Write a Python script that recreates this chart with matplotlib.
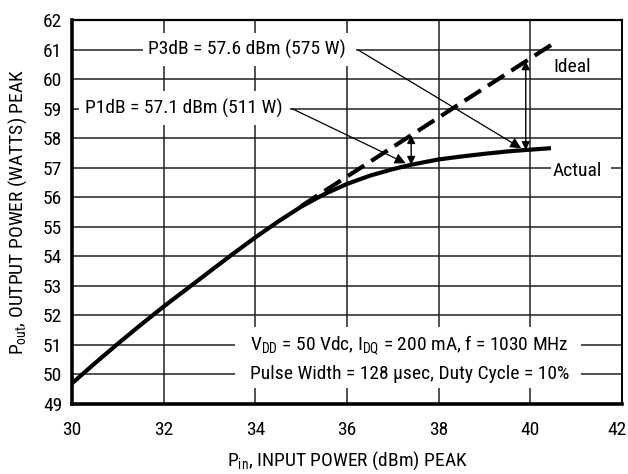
import matplotlib
matplotlib.use("Agg")
import matplotlib.pyplot as plt
from matplotlib import font_manager
from matplotlib.patches import Rectangle
from matplotlib.transforms import ScaledTranslation

# ---- data -------------------------------------------------------------
pin_actual = [30.0, 30.5, 31.0, 31.5, 32.0, 32.5, 33.0, 33.5, 34.0, 34.5, 35.0,
              35.5, 36.0, 36.5, 37.0, 37.4, 38.0, 38.5, 39.0, 39.5, 39.9, 40.45]
pout_actual = [49.7, 50.38, 51.04, 51.68, 52.3, 52.89, 53.48, 54.07, 54.64, 55.18, 55.68,
               56.1, 56.45, 56.73, 56.95, 57.1, 57.28, 57.38, 57.47, 57.55, 57.6, 57.66]

pin_ideal = [35.0, 40.45]
pout_ideal = [55.7, 61.15]

p1db_pin, p1db_actual, p1db_ideal = 37.4, 57.1, 58.1
p3db_pin, p3db_actual, p3db_ideal = 39.9, 57.6, 60.6

xticks = [30, 32, 34, 36, 38, 40, 42]
yticks = list(range(49, 63))

p1db_label = "P1dB = 57.1 dBm (511 W)"
p3db_label = "P3dB = 57.6 dBm (575 W)"
cond_line1 = r"V$\mathregular{_{DD}}$ = 50 Vdc, I$\mathregular{_{DQ}}$ = 200 mA, f = 1030 MHz"
cond_line2 = "Pulse Width = 128 \u03bcsec, Duty Cycle = 10%"

# ---- style ------------------------------------------------------------
names = {f.name for f in font_manager.fontManager.ttflist}
family = next((n for n in ("Roboto Condensed", "Archivo Narrow", "Pragati Narrow",
                           "PT Sans Narrow", "Liberation Sans") if n in names), "DejaVu Sans")
plt.rcParams["font.family"] = [family, "DejaVu Sans"]
plt.rcParams["mathtext.fontset"] = "custom"
plt.rcParams["mathtext.rm"] = family
plt.rcParams["lines.scale_dashes"] = False
FS = 14

fig = plt.figure(figsize=(6.28, 4.74), dpi=100)
ax = fig.add_axes([72 / 628, 1 - 404 / 474, 550 / 628, 384 / 474])

ax.set_xlim(30, 42)
ax.set_ylim(49, 62)
ax.set_xticks(xticks)
ax.set_yticks(yticks)
ax.tick_params(length=0, labelsize=FS)
ax.tick_params(axis="x", pad=12)
ax.tick_params(axis="y", pad=7)
ax.grid(True, color="#222222", lw=1.1)
ax.set_axisbelow(True)

# keep the last x tick label inside the figure edge
last = ax.get_xticklabels()[-1]
last.set_transform(last.get_transform() + ScaledTranslation(-5 / 100, 0, fig.dpi_scale_trans))

for side, lw in (("left", 2.6), ("bottom", 2.6), ("top", 1.6), ("right", 1.4)):
    ax.spines[side].set_linewidth(lw)
    ax.spines[side].set_color("black")

ax.set_xlabel(r"P$\mathregular{_{in}}$, INPUT POWER (dBm) PEAK", fontsize=FS, labelpad=8)
ax.set_ylabel(r"P$\mathregular{_{out}}$, OUTPUT POWER (WATTS) PEAK", fontsize=FS, labelpad=10)


def blank(x0, x1, y0, y1):
    ax.add_patch(Rectangle((x0, y0), x1 - x0, y1 - y0, facecolor="white",
                           edgecolor="none", zorder=1.5))


# ---- curves -----------------------------------------------------------
ax.plot(pin_actual, pout_actual, color="black", lw=3.0, solid_capstyle="butt",
        solid_joinstyle="round", zorder=3)
ax.plot(pin_ideal, pout_ideal, color="black", lw=3.0, dashes=(14, 6),
        dash_capstyle="butt", zorder=3)

# ---- compression markers ----------------------------------------------
dbl = dict(arrowstyle="<|-|>", lw=1.0, color="black", mutation_scale=12,
           shrinkA=0, shrinkB=0)
ax.annotate("", xy=(p1db_pin, p1db_actual), xytext=(p1db_pin, p1db_ideal),
            arrowprops=dbl, zorder=4)
ax.annotate("", xy=(p3db_pin, p3db_actual), xytext=(p3db_pin, p3db_ideal),
            arrowprops=dbl, zorder=4)

lead = dict(arrowstyle="-|>", lw=0.9, color="black", mutation_scale=16,
            shrinkA=0, shrinkB=0)

# P3dB label and leader
blank(31.55, 36.2, 60.43, 61.57)
ax.text(31.66, 61.0, p3db_label, fontsize=FS, va="center", ha="left", zorder=4)
ax.annotate("", xy=(p3db_pin - 0.1, p3db_actual + 0.06), xytext=(36.25, 60.98),
            arrowprops=lead, zorder=4)

# P1dB label and leader
blank(30.15, 34.75, 58.45, 59.6)
ax.text(30.28, 59.0, p1db_label, fontsize=FS, va="center", ha="left", zorder=4)
ax.annotate("", xy=(p1db_pin - 0.12, p1db_actual + 0.05), xytext=(34.8, 59.0),
            arrowprops=lead, zorder=4)

# curve names
ax.text(40.92, 60.4, "Ideal", fontsize=FS, va="center", ha="center", zorder=4)
blank(40.45, 41.75, 56.5, 57.4)
ax.text(41.03, 56.88, "Actual", fontsize=FS, va="center", ha="center", zorder=4)

# operating conditions
blank(33.55, 41.1, 49.55, 51.6)
ax.text(37.36, 51.0, cond_line1, fontsize=FS, va="center", ha="center", zorder=4)
ax.text(37.36, 50.0, cond_line2, fontsize=FS, va="center", ha="center", zorder=4)

fig.savefig("out.png", dpi=100)
